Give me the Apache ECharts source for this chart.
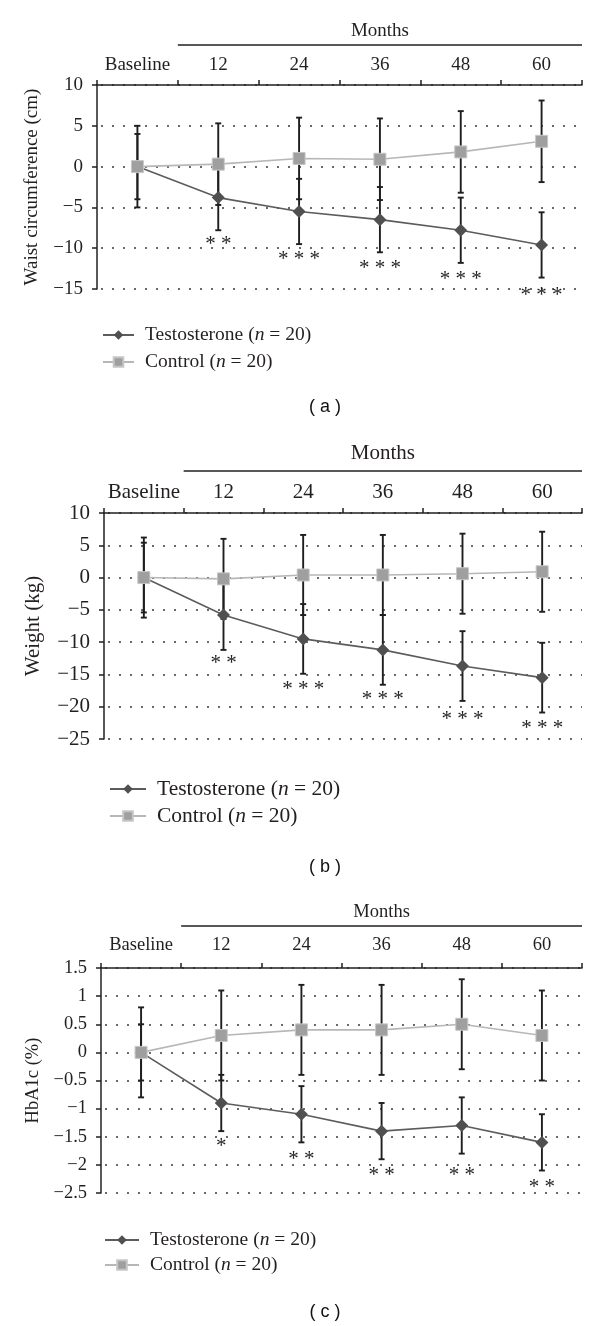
<!DOCTYPE html>
<html><head><meta charset="utf-8">
<script src="https://cdn.jsdelivr.net/npm/echarts@6/dist/echarts.min.js"></script>
<style>html,body{margin:0;padding:0;background:#fff}#c{width:600px;height:1326px}</style>
</head><body><div id="c"></div>
<script>
// ---------- data ----------
const categories = ['Baseline', '12', '24', '36', '48', '60'];
const groupNames = ['Testosterone', 'Control'];
const groupN = [20, 20];
const monthsTitle = 'Months';
const panelLabels = ['( a )', '( b )', '( c )'];

// (a) waist circumference
const waistName = 'Waist circumference (cm)';
const waistTicks = [-15, -10, -5, 0, 5, 10];
const waistT = [0, -3.8, -5.5, -6.5, -7.8, -9.6];
const waistTErr = [4, 4, 4, 4, 4, 4];
const waistC = [0, 0.3, 1.0, 0.9, 1.8, 3.1];
const waistCErr = [5, 5, 5, 5, 5, 5];
const waistSig = ['', '**', '***', '***', '***', '***'];
const waistSigY = [null, -8.8, -10.6, -11.7, -13.1, -15.1];

// (b) weight
const weightName = 'Weight (kg)';
const weightTicks = [-25, -20, -15, -10, -5, 0, 5, 10];
const weightT = [0, -5.8, -9.5, -11.2, -13.7, -15.5];
const weightTErr = [5.4, 5.4, 5.4, 5.4, 5.4, 5.4];
const weightC = [0, -0.2, 0.4, 0.4, 0.6, 0.9];
const weightCErr = [6.2, 6.2, 6.2, 6.2, 6.2, 6.2];
const weightSig = ['', '**', '***', '***', '***', '***'];
const weightSigY = [null, -12.3, -16.4, -17.9, -21.0, -22.5];

// (c) HbA1c
const hbName = 'HbA1c (%)';
const hbTicks = [-2.5, -2, -1.5, -1, -0.5, 0, 0.5, 1, 1.5];
const hbT = [0, -0.9, -1.1, -1.4, -1.3, -1.6];
const hbTErr = [0.5, 0.5, 0.5, 0.5, 0.5, 0.5];
const hbC = [0, 0.3, 0.4, 0.4, 0.5, 0.3];
const hbCErr = [0.8, 0.8, 0.8, 0.8, 0.8, 0.8];
const hbSig = ['', '*', '**', '**', '**', '**'];
const hbSigY = [null, -1.56, -1.79, -2.09, -2.08, -2.3];

// ---------- styling / layout ----------
const SERIF = "'Liberation Serif', 'Times New Roman', serif";
const SANS = "'Liberation Sans', Arial, sans-serif";
const INK = '#231f20';
const seriesNames = groupNames.map((g, i) => g + ' (n = ' + groupN[i] + ')');

const panels = [
  { name: waistName, ticks: waistTicks, T: waistT, TE: waistTErr, C: waistC, CE: waistCErr, sig: waistSig, sigY: waistSigY,
    grid: { left: 97, top: 85, width: 485, height: 204 }, fs: 19, nameGap: 55, labelMargin: 10,
    monthsY: 31, lineY: 45, legendTop: 320, legendLeft: 97, legendW: 31, legendFs: 19.5, legendGap: 7, panelY: 407 },
  { name: weightName, ticks: weightTicks, T: weightT, TE: weightTErr, C: weightC, CE: weightCErr, sig: weightSig, sigY: weightSigY,
    grid: { left: 104, top: 513, width: 478, height: 226 }, fs: 21, nameGap: 60, labelMargin: 10,
    monthsY: 453, lineY: 471, legendTop: 773, legendLeft: 104, legendW: 36, legendFs: 21.5, legendGap: 5, panelY: 867 },
  { name: hbName, ticks: hbTicks, T: hbT, TE: hbTErr, C: hbC, CE: hbCErr, sig: hbSig, sigY: hbSigY,
    grid: { left: 101, top: 968, width: 481, height: 225 }, fs: 18.5, nameGap: 58, labelMargin: 13,
    monthsY: 912, lineY: 926, legendTop: 1225, legendLeft: 99, legendW: 34, legendFs: 19.5, legendGap: 5, panelY: 1312 }
];

function fmtNum(v) { return String(v).replace('-', '\u2212'); }

function errRender(capHalf) {
  return function (params, api) {
    const i = api.value(0), m = api.value(1), e = api.value(2);
    const top = api.coord([i, m + e]);
    const bot = api.coord([i, m - e]);
    const x = top[0];
    const style = { stroke: '#1e1e1e', lineWidth: 1.9 };
    return { type: 'group', children: [
      { type: 'line', shape: { x1: x, y1: top[1], x2: x, y2: bot[1] }, style },
      { type: 'line', shape: { x1: x - capHalf, y1: top[1], x2: x + capHalf, y2: top[1] }, style },
      { type: 'line', shape: { x1: x - capHalf, y1: bot[1], x2: x + capHalf, y2: bot[1] }, style }
    ] };
  };
}

const option = { animation: false, backgroundColor: '#fff', grid: [], xAxis: [], yAxis: [], series: [], legend: [], graphic: [] };

panels.forEach((p, k) => {
  option.grid.push(Object.assign({ containLabel: false }, p.grid));
  option.xAxis.push({
    type: 'category', gridIndex: k, position: 'top', data: categories, boundaryGap: true,
    axisLine: { onZero: false, lineStyle: { color: INK, width: 1.5 } },
    axisTick: { show: true, length: 5, interval: 0, lineStyle: { color: INK, width: 1.5 } },
    axisLabel: { interval: 0, margin: p.labelMargin, color: INK, fontFamily: SERIF, fontSize: p.fs },
    splitLine: { show: false }
  });
  const mn = Math.min(...p.ticks), mx = Math.max(...p.ticks);
  option.yAxis.push({
    type: 'value', gridIndex: k, min: mn, max: mx, interval: p.ticks[1] - p.ticks[0],
    name: p.name, nameLocation: 'middle', nameGap: p.nameGap,
    nameTextStyle: { color: INK, fontFamily: SERIF, fontSize: p.fs },
    axisLine: { show: true, lineStyle: { color: INK, width: 1.5 } },
    axisTick: { show: true, length: 5, lineStyle: { color: INK, width: 1.5 } },
    axisLabel: { margin: 14, color: INK, fontFamily: SERIF, fontSize: p.fs, formatter: fmtNum },
    splitLine: { show: true, lineStyle: { color: '#3a3a3a', width: 1.6, type: [2, 9], dashOffset: 7 } }
  });
  // error bars
  option.series.push({
    type: 'custom', name: 'errT' + k, xAxisIndex: k, yAxisIndex: k, z: 2, silent: true,
    renderItem: errRender(3), data: categories.map((c, i) => [i, p.T[i], p.TE[i]])
  });
  option.series.push({
    type: 'custom', name: 'errC' + k, xAxisIndex: k, yAxisIndex: k, z: 2, silent: true,
    renderItem: errRender(3), data: categories.map((c, i) => [i, p.C[i], p.CE[i]])
  });
  // significance asterisks
  const sigIdx = categories.map((c, i) => i).filter(i => p.sig[i]);
  option.series.push({
    type: 'custom', name: 'sig' + k, xAxisIndex: k, yAxisIndex: k, z: 2, silent: true,
    renderItem: function (params, api) {
      const i = api.value(0);
      const pt = api.coord([i, api.value(1)]);
      return { type: 'text', x: pt[0], y: pt[1] + 6, style: {
        text: p.sig[i].split('').join(' '), fill: INK, font: '21px ' + SERIF, align: 'center', verticalAlign: 'middle' } };
    },
    data: sigIdx.map(i => [i, p.sigY[i]])
  });
  // lines
  option.series.push({
    type: 'line', name: seriesNames[0], xAxisIndex: k, yAxisIndex: k, z: 3, data: p.T,
    symbol: 'diamond', symbolSize: 13, emphasis: { disabled: true },
    lineStyle: { color: '#5c5c5c', width: 1.6 }, itemStyle: { color: '#505050' }
  });
  option.series.push({
    type: 'line', name: seriesNames[1], xAxisIndex: k, yAxisIndex: k, z: 4, data: p.C,
    symbol: 'rect', symbolSize: 12, emphasis: { disabled: true },
    lineStyle: { color: '#b7b7b7', width: 1.6 }, itemStyle: { color: '#9f9f9f', borderColor: '#c6c6c6', borderWidth: 1 }
  });
  // legend
  option.legend.push({
    orient: 'vertical', left: p.legendLeft, top: p.legendTop, itemWidth: p.legendW, itemHeight: 12,
    itemGap: p.legendGap, data: seriesNames, selectedMode: false,
    formatter: function (name) {
      const m = name.match(/^(.*\()n( = .*)$/);
      return m ? '{t|' + m[1] + '}{i|n}{t|' + m[2] + '}' : name;
    },
    textStyle: { color: INK, fontFamily: SERIF, fontSize: p.legendFs, padding: [0, 0, 0, 6],
      rich: { t: { color: INK, fontFamily: SERIF, fontSize: p.legendFs, lineHeight: 20 },
              i: { color: INK, fontFamily: SERIF, fontSize: p.legendFs, fontStyle: 'italic', lineHeight: 20 } } }
  });
  // Months header + line, panel label
  const bandStart = p.grid.left + p.grid.width / categories.length;
  const right = p.grid.left + p.grid.width;
  option.graphic.push({ type: 'text', x: (bandStart + right) / 2, y: p.monthsY,
    style: { text: monthsTitle, fill: INK, font: p.fs + 'px ' + SERIF, align: 'center', verticalAlign: 'middle' } });
  option.graphic.push({ type: 'line', shape: { x1: bandStart, y1: p.lineY, x2: right, y2: p.lineY },
    style: { stroke: INK, lineWidth: 1.5 } });
  option.graphic.push({ type: 'text', x: 325, y: p.panelY,
    style: { text: panelLabels[k], fill: '#111', font: '18px ' + SANS, align: 'center', verticalAlign: 'middle' } });
});

const chart = echarts.init(document.getElementById('c'), null, { renderer: 'canvas' });
chart.setOption(option);
</script></body></html>
